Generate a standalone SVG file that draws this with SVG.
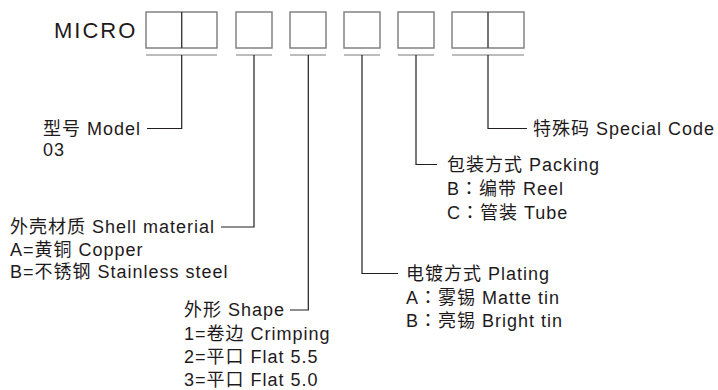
<svg xmlns="http://www.w3.org/2000/svg" width="718" height="390" viewBox="0 0 718 390">
<style>
  .t { font-family: "Liberation Sans", "Noto Sans CJK SC", sans-serif; font-size: 18px; letter-spacing: 1px; fill: #1e1a1b; }
  .c { font-family: "Noto Sans CJK TC", "Noto Sans CJK SC", sans-serif; }
  .title { font-family: "Liberation Sans", "Noto Sans CJK SC", sans-serif; font-size: 22px; letter-spacing: 2px; fill: #1e1a1b; }
  .box { fill: #ffffff; stroke: #7a7a7a; stroke-width: 1.4; }
  .div { stroke: #3a3a3a; stroke-width: 1.4; }
  .under { stroke: #7a7a7a; stroke-width: 1.2; fill: none; }
  .conn { stroke: #231f20; stroke-width: 1.2; fill: none; }
</style>
<rect width="718" height="390" fill="#ffffff"/>

<g id="header">
  <text class="title" x="54" y="38">MICRO</text>
</g>

<g id="field-model">
  <rect class="box" x="146" y="12" width="71" height="36"/>
  <line class="div" x1="181.7" y1="12" x2="181.7" y2="48"/>
  <line class="under" x1="146" y1="55" x2="217" y2="55"/>
</g>
<g id="field-shell">
  <rect class="box" x="236" y="12" width="36" height="36"/>
  <line class="under" x1="236" y1="55" x2="272" y2="55"/>
</g>
<g id="field-shape">
  <rect class="box" x="290" y="12" width="36" height="36"/>
  <line class="under" x1="290" y1="55" x2="326" y2="55"/>
</g>
<g id="field-plating">
  <rect class="box" x="344" y="12" width="36" height="36"/>
  <line class="under" x1="344" y1="55" x2="380" y2="55"/>
</g>
<g id="field-packing">
  <rect class="box" x="398" y="12" width="36" height="36"/>
  <line class="under" x1="398" y1="55" x2="434" y2="55"/>
</g>
<g id="field-special">
  <rect class="box" x="452" y="12" width="72" height="36"/>
  <line class="div" x1="488" y1="12" x2="488" y2="48"/>
  <line class="under" x1="452" y1="55" x2="524" y2="55"/>
</g>

<g id="connectors">
  <polyline class="conn" points="181.7,55 181.7,128.5 147,128.5"/>
  <polyline class="conn" points="254,55 254,227 221,227"/>
  <polyline class="conn" points="308.3,55 308.3,310 290,310"/>
  <polyline class="conn" points="362,55 362,273.5 398,273.5"/>
  <polyline class="conn" points="416,55 416,164.5 437,164.5"/>
  <polyline class="conn" points="488,55 488,128.5 527,128.5"/>
</g>

<g id="label-model">
  <text class="t" x="43" y="134.5">型号 Model</text>
  <text class="t" x="43" y="156">03</text>
</g>
<g id="label-shell">
  <text class="t" x="10" y="233">外壳材质 Shell material</text>
  <text class="t" x="10" y="255.5">A=黄铜 Copper</text>
  <text class="t" x="10" y="278">B=不锈钢 Stainless steel</text>
</g>
<g id="label-shape">
  <text class="t" x="184" y="316">外形 Shape</text>
  <text class="t" x="184" y="339.5">1=卷边 Crimping</text>
  <text class="t" x="184" y="362.5">2=平口 Flat 5.5</text>
  <text class="t" x="184" y="385.5">3=平口 Flat 5.0</text>
</g>
<g id="label-plating">
  <text class="t" x="406" y="280">电镀方式 Plating</text>
  <text class="t" x="406" y="303.5">A<tspan class="c">：</tspan>雾锡 Matte tin</text>
  <text class="t" x="406" y="327">B<tspan class="c">：</tspan>亮锡 Bright tin</text>
</g>
<g id="label-packing">
  <text class="t" x="447" y="171">包装方式 Packing</text>
  <text class="t" x="447" y="195">B<tspan class="c">：</tspan>编带 Reel</text>
  <text class="t" x="447" y="219">C<tspan class="c">：</tspan>管装 Tube</text>
</g>
<g id="label-special">
  <text class="t" x="533" y="134.5">特殊码 Special Code</text>
</g>
</svg>
